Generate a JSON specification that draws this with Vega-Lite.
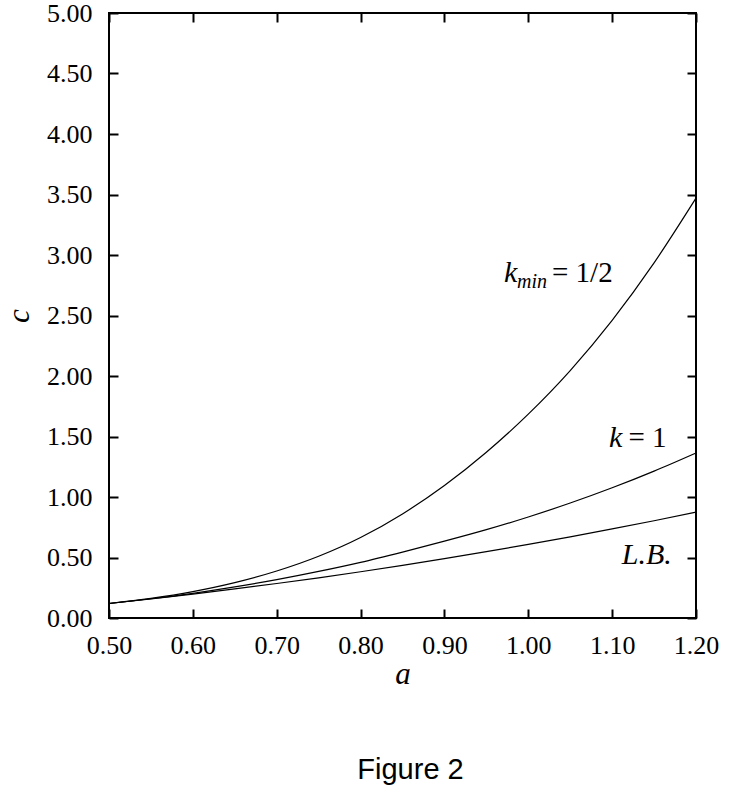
{
  "$schema": "https://vega.github.io/schema/vega-lite/v6.json",
  "width": 587,
  "height": 605,
  "autosize": {"type": "none"},
  "padding": {"left": 109, "top": 13, "right": 51, "bottom": 188},
  "background": "white",
  "config": {
    "view": {"stroke": "black", "strokeWidth": 2},
    "axis": {
      "grid": false,
      "domain": false,
      "tickColor": "black",
      "tickWidth": 2,
      "tickSize": -9,
      "labelColor": "black",
      "labelFont": "Liberation Serif",
      "labelFontSize": 26,
      "labelFlush": false,
      "labelOverlap": false,
      "titleColor": "black",
      "titleFont": "Liberation Serif",
      "titleFontStyle": "italic",
      "titleFontWeight": "normal",
      "titleFontSize": 31
    },
    "title": {"font": "Liberation Sans", "fontSize": 29, "fontWeight": "normal", "color": "black"}
  },
  "title": {"text": "Figure 2", "orient": "bottom", "anchor": "middle", "offset": 67, "dx": 8},
  "data": {
    "values": [
      {"series": "kmin", "a": 0.50, "c": 0.120},
      {"series": "kmin", "a": 0.55, "c": 0.162},
      {"series": "kmin", "a": 0.60, "c": 0.218},
      {"series": "kmin", "a": 0.65, "c": 0.292},
      {"series": "kmin", "a": 0.70, "c": 0.388},
      {"series": "kmin", "a": 0.75, "c": 0.510},
      {"series": "kmin", "a": 0.80, "c": 0.665},
      {"series": "kmin", "a": 0.85, "c": 0.860},
      {"series": "kmin", "a": 0.90, "c": 1.095},
      {"series": "kmin", "a": 0.95, "c": 1.370},
      {"series": "kmin", "a": 1.00, "c": 1.685},
      {"series": "kmin", "a": 1.05, "c": 2.045},
      {"series": "kmin", "a": 1.10, "c": 2.460},
      {"series": "kmin", "a": 1.15, "c": 2.935},
      {"series": "kmin", "a": 1.20, "c": 3.470},
      {"series": "k1", "a": 0.50, "c": 0.120},
      {"series": "k1", "a": 0.55, "c": 0.159},
      {"series": "k1", "a": 0.60, "c": 0.204},
      {"series": "k1", "a": 0.65, "c": 0.257},
      {"series": "k1", "a": 0.70, "c": 0.317},
      {"series": "k1", "a": 0.75, "c": 0.385},
      {"series": "k1", "a": 0.80, "c": 0.460},
      {"series": "k1", "a": 0.85, "c": 0.545},
      {"series": "k1", "a": 0.90, "c": 0.635},
      {"series": "k1", "a": 0.95, "c": 0.730},
      {"series": "k1", "a": 1.00, "c": 0.835},
      {"series": "k1", "a": 1.05, "c": 0.950},
      {"series": "k1", "a": 1.10, "c": 1.076},
      {"series": "k1", "a": 1.15, "c": 1.214},
      {"series": "k1", "a": 1.20, "c": 1.364},
      {"series": "LB", "a": 0.50, "c": 0.120},
      {"series": "LB", "a": 0.55, "c": 0.157},
      {"series": "LB", "a": 0.60, "c": 0.197},
      {"series": "LB", "a": 0.65, "c": 0.240},
      {"series": "LB", "a": 0.70, "c": 0.285},
      {"series": "LB", "a": 0.75, "c": 0.332},
      {"series": "LB", "a": 0.80, "c": 0.382},
      {"series": "LB", "a": 0.85, "c": 0.435},
      {"series": "LB", "a": 0.90, "c": 0.490},
      {"series": "LB", "a": 0.95, "c": 0.548},
      {"series": "LB", "a": 1.00, "c": 0.608},
      {"series": "LB", "a": 1.05, "c": 0.671},
      {"series": "LB", "a": 1.10, "c": 0.736},
      {"series": "LB", "a": 1.15, "c": 0.804},
      {"series": "LB", "a": 1.20, "c": 0.875}
    ]
  },
  "resolve": {"axis": {"x": "independent", "y": "independent"}},
  "layer": [
    {
      "mark": {"type": "line", "color": "black", "strokeWidth": 1.2, "interpolate": "monotone"},
      "encoding": {
        "x": {
          "field": "a", "type": "quantitative",
          "scale": {"domain": [0.5, 1.2], "nice": false, "zero": false},
          "axis": {
            "orient": "bottom",
            "values": [0.5, 0.6, 0.7, 0.8, 0.9, 1.0, 1.1, 1.2],
            "format": ".2f",
            "labelPadding": 23,
            "title": "a",
            "titleY": 65,
            "titleBaseline": "alphabetic"
          }
        },
        "y": {
          "field": "c", "type": "quantitative",
          "scale": {"domain": [0, 5], "nice": false},
          "axis": {
            "orient": "left",
            "values": [0, 0.5, 1, 1.5, 2, 2.5, 3, 3.5, 4, 4.5, 5],
            "format": ".2f",
            "labelPadding": 26,
            "title": "c",
            "titleAngle": -90,
            "titleX": -81,
            "titleY": 302.5,
            "titleAlign": "center",
            "titleBaseline": "alphabetic"
          }
        },
        "detail": {"field": "series"}
      }
    },
    {
      "data": {"values": [{"a": 0.971, "c": 2.78, "t": "k"}, {"a": 1.0963, "c": 1.416, "t": "k"}, {"a": 1.1114, "c": 0.444, "t": "L.B."}]},
      "mark": {"type": "text", "align": "left", "baseline": "alphabetic", "font": "Liberation Serif", "fontSize": 30, "fontStyle": "italic", "color": "black"},
      "encoding": {
        "x": {
          "field": "a", "type": "quantitative",
          "axis": {"orient": "top", "values": [0.5, 0.6, 0.7, 0.8, 0.9, 1.0, 1.1, 1.2], "labels": false, "title": null}
        },
        "y": {
          "field": "c", "type": "quantitative",
          "axis": {"orient": "right", "values": [0, 0.5, 1, 1.5, 2, 2.5, 3, 3.5, 4, 4.5, 5], "labels": false, "title": null}
        },
        "text": {"field": "t"}
      }
    },
    {
      "data": {"values": [{"a": 0.9865, "c": 2.727, "t": "min"}]},
      "mark": {"type": "text", "align": "left", "baseline": "alphabetic", "font": "Liberation Serif", "fontSize": 20, "fontStyle": "italic", "color": "black"},
      "encoding": {
        "x": {"field": "a", "type": "quantitative", "axis": null},
        "y": {"field": "c", "type": "quantitative", "axis": null},
        "text": {"field": "t"}
      }
    },
    {
      "data": {"values": [{"a": 1.0283, "c": 2.78, "t": "= 1/2"}, {"a": 1.1195, "c": 1.416, "t": "= 1"}]},
      "mark": {"type": "text", "align": "left", "baseline": "alphabetic", "font": "Liberation Serif", "fontSize": 29, "color": "black"},
      "encoding": {
        "x": {"field": "a", "type": "quantitative", "axis": null},
        "y": {"field": "c", "type": "quantitative", "axis": null},
        "text": {"field": "t"}
      }
    }
  ]
}
